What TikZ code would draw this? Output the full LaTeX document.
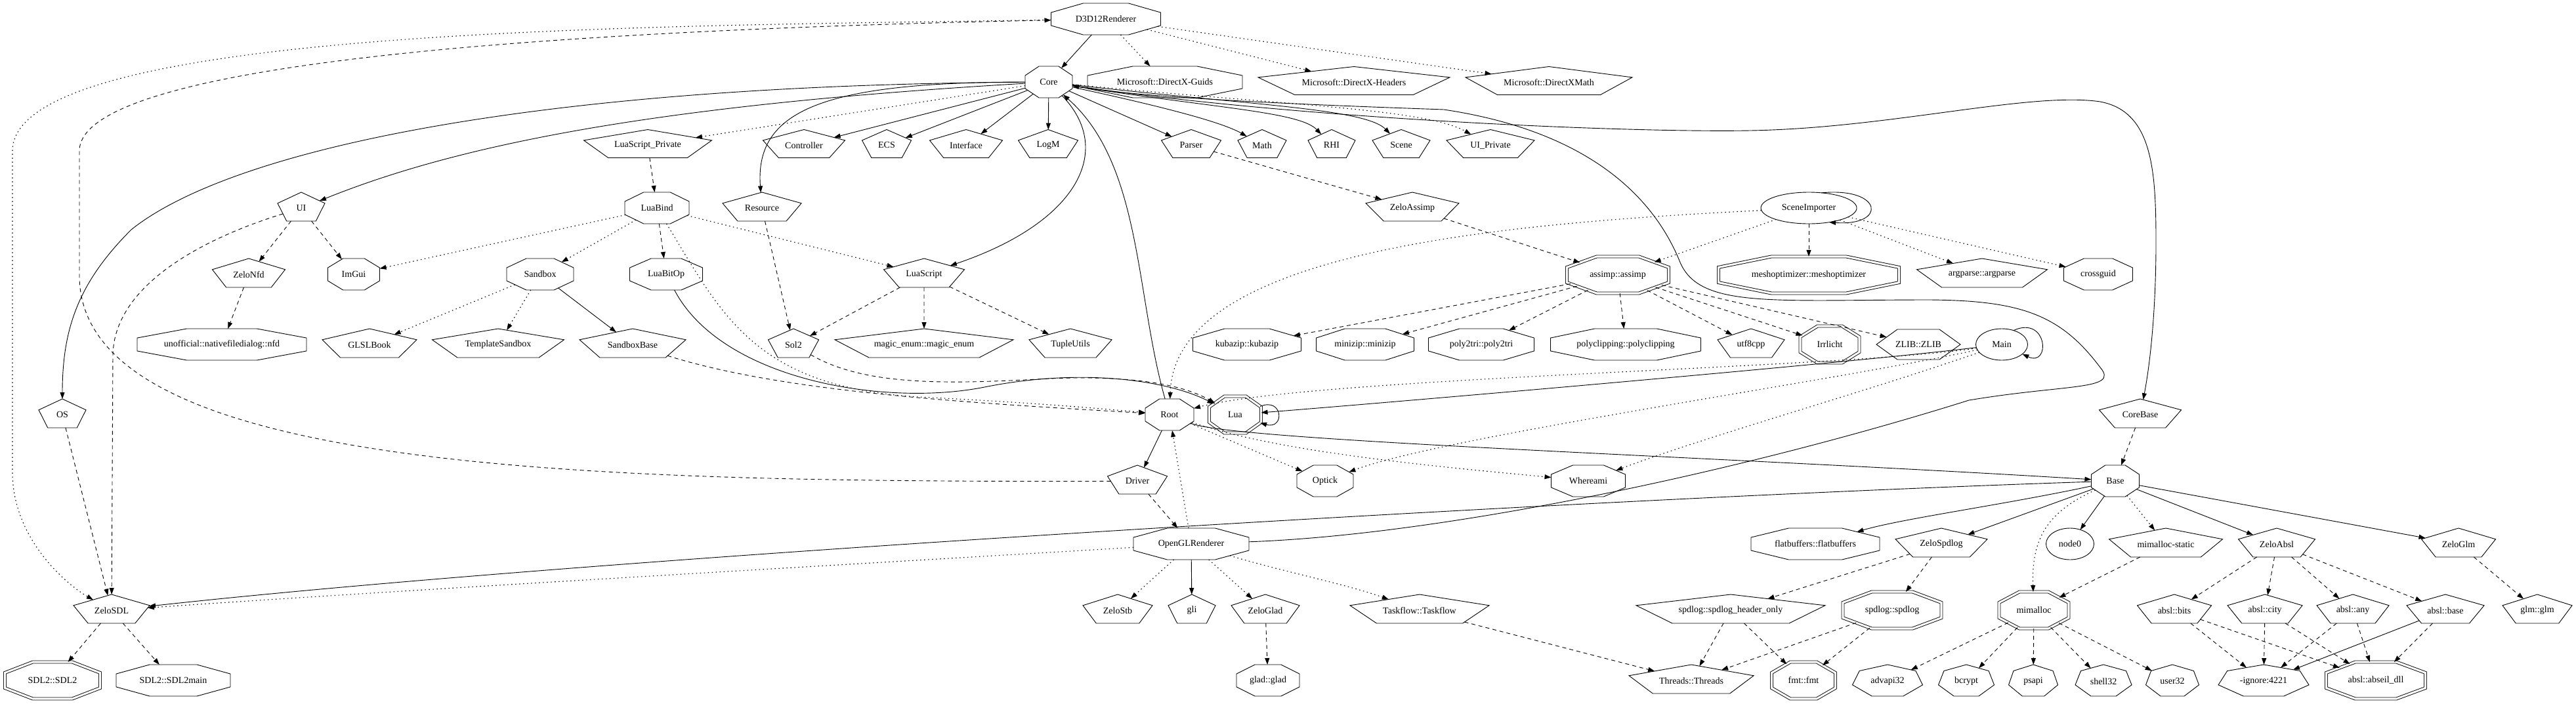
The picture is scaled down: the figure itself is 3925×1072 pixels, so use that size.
\documentclass[tikz,border=0pt]{standalone}
\usepackage{fontspec}
\setmainfont{Liberation Serif}
\usepackage{graphicx}
\usetikzlibrary{shapes.geometric,arrows.meta}

\tikzset{
  gv/.style={draw, line width=0.9pt, inner sep=0pt, outer sep=0pt, font=\fontsize{14}{16}\selectfont},
  poly/.style={gv, regular polygon, transform shape},
  dbl/.style={double, double distance=3.1pt},
  ell/.style={gv, ellipse},
  edsol/.style={line width=0.9pt, -{Triangle[length=10pt,width=7pt]}},
  edash/.style={edsol, dash pattern=on 6pt off 5pt},
  edot/.style={edsol, line width=1.1pt, dash pattern=on 1.5pt off 4.5pt},
}

% #1 name, #2 sides, #3 extra style, #4 x, #5 y, #6 width, #7 height, #8 text
\newcommand\gvn[8]{%
  \ifcase#2\relax\or\or\or\or\or
    \pgfmathsetmacro\gD{2*#7/1.809017}\pgfmathsetmacro\gnw{\gD*0.951057}\pgfmathsetmacro\goff{0.0955*\gD/2}%
  \or
    \pgfmathsetmacro\gD{#7/0.866025}\pgfmathsetmacro\gnw{\gD}\def\goff{0}%
  \or
    \pgfmathsetmacro\gD{2*#7/1.900969}\pgfmathsetmacro\gnw{\gD*0.974928}\pgfmathsetmacro\goff{0.0495*\gD/2}%
  \or
    \pgfmathsetmacro\gD{#7/0.923880}\pgfmathsetmacro\gnw{#7}\def\goff{0}%
  \fi
  \pgfmathsetmacro\gxs{#6/\gnw}\pgfmathsetmacro\gix{\gnw/#6}%
  \node[poly, regular polygon sides=#2, minimum size=\gD pt, xscale=\gxs, #3] (#1) at (#4,#5+\goff) {\scalebox{\gix}[1]{#8}};%
}

\begin{document}
\begin{tikzpicture}[x=1pt,y=-1pt]
\useasboundingbox (0,0) rectangle (3925,1072);

% ---------------- nodes
\gvn{d3d}{8}{}{1685}{29}{167}{48}{D3D12Renderer}
\gvn{core}{8}{}{1598}{125}{72}{48}{Core}
\gvn{msguids}{8}{}{1775}{125}{236}{48}{Microsoft::DirectX-Guids}
\gvn{msheaders}{5}{}{2063}{123}{292}{43}{Microsoft::DirectX-Headers}
\gvn{msmath}{5}{}{2360}{123}{254}{43}{Microsoft::DirectXMath}

\gvn{lsp}{5}{}{987}{219}{195}{43}{LuaScript\_Private}
\gvn{controller}{5}{}{1225}{219}{125}{43}{Controller}
\gvn{ecs}{5}{}{1351}{219}{75}{43}{ECS}
\gvn{interface}{5}{}{1472}{219}{111}{43}{Interface}
\gvn{logm}{5}{}{1597}{219}{91}{43}{LogM}
\gvn{parser}{5}{}{1815}{219}{91}{43}{Parser}
\gvn{math}{5}{}{1923}{219}{74}{43}{Math}
\gvn{rhi}{5}{}{2029}{219}{72}{43}{RHI}
\gvn{scene}{5}{}{2135}{219}{88}{43}{Scene}
\gvn{uip}{5}{}{2271}{219}{134}{43}{UI\_Private}

\gvn{ui}{5}{}{459}{315}{72}{44}{UI}
\gvn{luabind}{8}{}{1001}{317}{98}{48}{LuaBind}
\gvn{resource}{5}{}{1161}{315}{120}{44}{Resource}
\gvn{zassimp}{5}{}{2152}{315}{142}{44}{ZeloAssimp}
\node[ell, minimum width=146pt, minimum height=48pt] (simp) at (2756,317) {SceneImporter};

\gvn{zelonfd}{5}{}{379}{416}{111}{44}{ZeloNfd}
\gvn{imgui}{8}{}{539}{418}{79}{48}{ImGui}
\gvn{sandbox}{8}{}{823}{418}{102}{48}{Sandbox}
\gvn{luabitop}{8}{}{1015}{418}{111}{48}{LuaBitOp}
\gvn{luascript}{5}{}{1408}{416}{123}{44}{LuaScript}
\gvn{assimp}{8}{dbl}{2465}{419}{155}{56}{assimp::assimp}
\gvn{meshopt}{8}{dbl}{2756}{419}{275}{56}{meshoptimizer::meshoptimizer}
\gvn{argparse}{5}{}{3020}{416}{199}{44}{argparse::argparse}
\gvn{crossguid}{8}{}{3197}{418}{105}{48}{crossguid}

\gvn{nfd}{8}{}{338}{525}{258}{48}{unofficial::nativefiledialog::nfd}
\gvn{glslbook}{5}{}{563}{523}{144}{44}{GLSLBook}
\gvn{tsandbox}{5}{}{759}{523}{201}{44}{TemplateSandbox}
\gvn{sbase}{5}{}{964}{523}{162}{44}{SandboxBase}
\gvn{sol2}{5}{}{1209}{523}{77}{44}{Sol2}
\gvn{magic}{5}{}{1408}{523}{272}{44}{magic\_enum::magic\_enum}
\gvn{tuple}{5}{}{1631}{523}{126}{44}{TupleUtils}
\gvn{kubazip}{8}{}{1900}{525}{165}{48}{kubazip::kubazip}
\gvn{minizip}{8}{}{2080}{525}{149}{48}{minizip::minizip}
\gvn{poly2tri}{8}{}{2257}{525}{161}{48}{poly2tri::poly2tri}
\gvn{polyclip}{8}{}{2477}{525}{229}{48}{polyclipping::polyclipping}
\gvn{utf8cpp}{5}{}{2668}{523}{102}{44}{utf8cpp}
\gvn{irrlicht}{8}{dbl}{2788}{525}{90}{56}{Irrlicht}
\gvn{zlib}{6}{}{2923}{525}{128}{46}{ZLIB::ZLIB}
\node[ell, minimum width=79pt, minimum height=48pt] (main) at (3050,525) {Main};

\gvn{os}{5}{}{95}{630}{72}{44}{OS}
\gvn{root}{8}{}{1782}{632}{74}{48}{Root}
\gvn{lua}{8}{dbl}{1882}{632}{79}{56}{Lua}
\gvn{corebase}{5}{}{3261}{630}{125}{44}{CoreBase}

\gvn{driver}{5}{}{1733}{731}{91}{44}{Driver}
\gvn{optick}{8}{}{2019}{733}{86}{48}{Optick}
\gvn{whereami}{8}{}{2420}{733}{113}{48}{Whereami}
\gvn{base}{8}{}{3223}{733}{73}{48}{Base}

\gvn{ogl}{8}{}{1815}{829}{176}{48}{OpenGLRenderer}
\gvn{flatbuf}{8}{}{2766}{829}{196}{48}{flatbuffers::flatbuffers}
\gvn{zspdlog}{5}{}{2958}{827}{140}{44}{ZeloSpdlog}
\node[ell, minimum width=73pt, minimum height=48pt] (node0) at (3154,829) {node0};
\gvn{mimstatic}{5}{}{3300}{827}{173}{44}{mimalloc-static}
\gvn{zabsl}{5}{}{3469}{827}{117}{44}{ZeloAbsl}
\gvn{zglm}{5}{}{3746}{827}{113}{44}{ZeloGlm}

\gvn{zsdl}{5}{}{170}{928}{116}{44}{ZeloSDL}
\gvn{zstb}{5}{}{1703}{928}{106}{44}{ZeloStb}
\gvn{gli}{5}{}{1816}{928}{72}{44}{gli}
\gvn{zglad}{5}{}{1928}{928}{104}{44}{ZeloGlad}
\gvn{taskflow}{5}{}{2163}{928}{212}{44}{Taskflow::Taskflow}
\gvn{spdho}{5}{}{2637}{928}{288}{44}{spdlog::spdlog\_header\_only}
\gvn{spdlog}{8}{dbl}{2883}{930}{150}{56}{spdlog::spdlog}
\gvn{mimalloc}{8}{dbl}{3099}{930}{106}{56}{mimalloc}
\gvn{abits}{5}{}{3313}{928}{113}{44}{absl::bits}
\gvn{acity}{5}{}{3451}{928}{114}{44}{absl::city}
\gvn{aany}{5}{}{3585}{928}{110}{44}{absl::any}
\gvn{abase}{5}{}{3726}{928}{118}{44}{absl::base}
\gvn{glm}{5}{}{3866}{928}{106}{44}{glm::glm}

\gvn{sdl2}{8}{dbl}{80}{1037}{145}{56}{SDL2::SDL2}
\gvn{sdl2main}{8}{}{264}{1037}{174}{48}{SDL2::SDL2main}
\gvn{glad}{8}{}{1932}{1037}{96}{48}{glad::glad}
\gvn{threads}{5}{}{2577}{1035}{190}{44}{Threads::Threads}
\gvn{fmt}{8}{dbl}{2748}{1037}{97}{56}{fmt::fmt}
\gvn{advapi}{7}{}{2876}{1037}{107}{48}{advapi32}
\gvn{bcrypt}{7}{}{2996}{1037}{85}{48}{bcrypt}
\gvn{psapi}{7}{}{3098}{1037}{75}{48}{psapi}
\gvn{shell32}{7}{}{3205}{1037}{86}{48}{shell32}
\gvn{user32}{7}{}{3310}{1037}{81}{48}{user32}
\gvn{ignore}{7}{}{3449}{1037}{138}{48}{-ignore:4221}
\gvn{abseil}{8}{dbl}{3620}{1037}{151}{56}{absl::abseil\_dll}

% ---------------- connectors
\draw[edsol] (d3d) -- (core);
\draw[edot] (d3d) -- (msguids);
\draw[edot] (d3d) -- (msheaders);
\draw[edot] (d3d) -- (msmath);
\draw[edot] (d3d) .. controls (1000,40) and (19,40) .. (19,230) -- (19,720) .. controls (19,820) and (100,890) .. (zsdl);
\draw[edash] (driver) .. controls (900,735) and (121,720) .. (121,420) -- (121,230) .. controls (121,90) and (900,45) .. (d3d);

\draw[edot] (core) -- (lsp);
\draw[edsol] (core) -- (controller);
\draw[edsol] (core) -- (ecs);
\draw[edsol] (core) -- (interface);
\draw[edsol] (core) -- (logm);
\draw[edsol] (core) -- (parser);
\draw[edsol] (core) .. controls (1760,160) and (1860,185) .. (math);
\draw[edsol] (core) .. controls (1850,165) and (1980,170) .. (rhi);
\draw[edsol] (core) .. controls (1900,160) and (2080,165) .. (scene);
\draw[edot] (core) .. controls (1950,160) and (2170,165) .. (uip);
\draw[edsol] (core) .. controls (1000,160) and (700,220) .. (ui);
\draw[edsol] (core) .. controls (800,130) and (350,230) .. (200,350) .. controls (120,430) and (95,500) .. (os);
\draw[edsol] (core) .. controls (1250,125) and (1150,170) .. (resource);
\draw[edsol] (core) .. controls (1700,230) and (1640,340) .. (luascript);
\draw[edsol] (root) .. controls (1730,450) and (1740,250) .. (core);
\draw[edsol] (core) .. controls (2000,185) and (2550,205) .. (2700,198) .. controls (2900,190) and (3100,140) .. (3200,155) .. controls (3280,170) and (3285,260) .. (3285,370) .. controls (3285,480) and (3275,560) .. (corebase);
\draw[edsol] (ogl) .. controls (2200,815) and (2650,720) .. (3000,610) .. controls (3150,585) and (3230,595) .. (3200,560) .. controls (3140,480) and (3080,458) .. (2940,457) .. controls (2700,457) and (2590,470) .. (2560,400) .. controls (2520,300) and (2420,200) .. (2200,167) .. controls (2000,160) and (1750,150) .. (core);

\draw[edsol] (root) -- (driver);
\draw[edot] (root) -- (optick);
\draw[edot] (root) .. controls (1950,690) and (2200,712) .. (whereami);
\draw[edsol] (root) .. controls (1880,672) and (2600,695) .. (base);
\draw[edot] (main) .. controls (2800,562) and (2000,575) .. (root);
\draw[edsol] (main) .. controls (2800,555) and (2100,615) .. (lua);
\draw[edot] (main) .. controls (2800,580) and (2200,665) .. (optick);
\draw[edot] (main) .. controls (2850,595) and (2600,665) .. (whereami);
\draw[edsol] (main.50) .. controls (3120,480) and (3125,560) .. (main.-25);
\draw[edsol] (simp.50) .. controls (2870,285) and (2875,345) .. (simp.-35);
\draw[edsol] (lua.25) .. controls (1955,605) and (1958,655) .. (lua.-25);

\draw[edsol] (luabitop) .. controls (1100,580) and (1350,620) .. (1500,590) .. controls (1650,560) and (1780,580) .. (lua);
\draw[edash] (sol2) .. controls (1320,590) and (1450,585) .. (1600,577) .. controls (1720,572) and (1800,585) .. (lua);
\draw[edot] (luabind) .. controls (1100,480) and (1150,590) .. (1400,605) .. controls (1600,615) and (1700,625) .. (root);
\draw[edash] (sbase) .. controls (1200,600) and (1500,615) .. (root);
\draw[edot] (simp) .. controls (2300,340) and (1790,380) .. (root);
\draw[edot] (simp) -- (assimp);
\draw[edash] (simp) -- (meshopt);
\draw[edot] (simp) -- (argparse);
\draw[edot] (simp) -- (crossguid);
\draw[edash] (parser) -- (zassimp);
\draw[edash] (zassimp) -- (assimp);
\draw[edash] (assimp) -- (kubazip);
\draw[edash] (assimp) -- (minizip);
\draw[edash] (assimp) -- (poly2tri);
\draw[edash] (assimp) -- (polyclip);
\draw[edash] (assimp) -- (utf8cpp);
\draw[edash] (assimp) -- (irrlicht);
\draw[edash] (assimp) -- (zlib);

\draw[edash] (lsp) -- (luabind);
\draw[edot] (luabind) -- (imgui);
\draw[edot] (luabind) -- (sandbox);
\draw[edash] (luabind) -- (luabitop);
\draw[edot] (luabind) -- (luascript);
\draw[edash] (resource) -- (sol2);
\draw[edash] (luascript) -- (sol2);
\draw[edash] (luascript) -- (magic);
\draw[edash] (luascript) -- (tuple);
\draw[edot] (sandbox) -- (glslbook);
\draw[edot] (sandbox) -- (tsandbox);
\draw[edsol] (sandbox) -- (sbase);
\draw[edash] (ui) -- (zelonfd);
\draw[edash] (ui) -- (imgui);
\draw[edash] (ui) .. controls (320,360) and (175,430) .. (172,540) -- (zsdl);
\draw[edash] (zelonfd) -- (nfd);
\draw[edash] (os) -- (zsdl);
\draw[edash] (zsdl) -- (sdl2);
\draw[edash] (zsdl) -- (sdl2main);

\draw[edash] (driver) -- (ogl);
\draw[edot] (ogl) -- (zstb);
\draw[edsol] (ogl) -- (gli);
\draw[edot] (ogl) -- (zglad);
\draw[edot] (ogl) .. controls (1950,870) and (2050,890) .. (taskflow);
\draw[edot] (ogl) -- (root);
\draw[edot] (ogl) .. controls (1300,860) and (600,900) .. (zsdl);
\draw[edash] (zglad) -- (glad);
\draw[edash] (taskflow) -- (threads);

\draw[edsol] (base) .. controls (2400,760) and (900,850) .. (zsdl);
\draw[edsol] (base) .. controls (3050,770) and (2900,790) .. (flatbuf);
\draw[edsol] (base) -- (zspdlog);
\draw[edsol] (base) -- (node0);
\draw[edot] (base) -- (mimstatic);
\draw[edsol] (base) -- (zabsl);
\draw[edsol] (base) -- (zglm);
\draw[edot] (base) .. controls (3120,780) and (3095,820) .. (mimalloc);
\draw[edash] (corebase) -- (base);

\draw[edash] (zspdlog) -- (spdho);
\draw[edash] (zspdlog) -- (spdlog);
\draw[edash] (spdho) -- (threads);
\draw[edash] (spdho) -- (fmt);
\draw[edash] (spdlog) -- (threads);
\draw[edash] (spdlog) -- (fmt);
\draw[edash] (mimstatic) -- (mimalloc);
\draw[edash] (mimalloc) -- (advapi);
\draw[edash] (mimalloc) -- (bcrypt);
\draw[edash] (mimalloc) -- (psapi);
\draw[edash] (mimalloc) -- (shell32);
\draw[edash] (mimalloc) -- (user32);
\draw[edash] (zabsl) -- (abits);
\draw[edash] (zabsl) -- (acity);
\draw[edash] (zabsl) -- (aany);
\draw[edash] (zabsl) -- (abase);
\draw[edash] (abits) -- (ignore);
\draw[edash] (abits) -- (abseil);
\draw[edash] (acity) -- (ignore);
\draw[edash] (acity) -- (abseil);
\draw[edash] (aany) -- (ignore);
\draw[edash] (aany) -- (abseil);
\draw[edsol] (abase) -- (ignore);
\draw[edash] (abase) -- (abseil);
\draw[edash] (zglm) -- (glm);
\end{tikzpicture}
\end{document}
